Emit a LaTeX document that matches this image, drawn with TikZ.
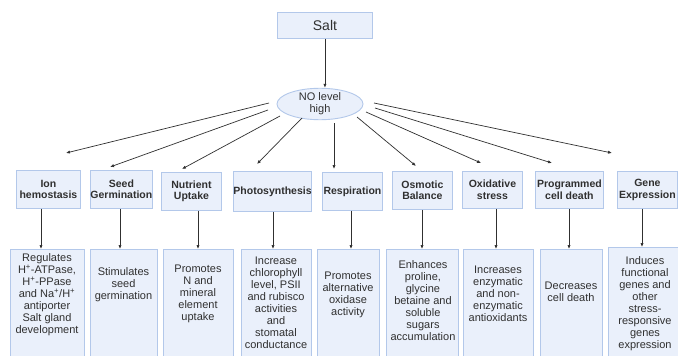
\documentclass[tikz,border=0pt]{standalone}
\usepackage{fontspec}
\setmainfont{Liberation Sans}
\usetikzlibrary{arrows.meta,shapes.geometric}
\definecolor{boxfill}{HTML}{EAF0FB}
\definecolor{boxline}{HTML}{B3C8EA}
\definecolor{ink}{HTML}{303030}
\begin{document}
\begin{tikzpicture}[x=1pt,y=-1pt,
  catbox/.style={draw=boxline, fill=boxfill, line width=0.9pt, text=ink, align=center,
     inner sep=0pt, anchor=north west, font=\bfseries\fontsize{10.5}{11.5}\selectfont},
  outbox/.style={draw=boxline, fill=boxfill, line width=0.9pt, inner sep=0pt,
     anchor=north west, minimum height=130},
  outtext/.style={text=ink, align=center, inner sep=0pt, font=\fontsize{11}{12}\selectfont},
  arr/.style={draw=ink, line width=0.7pt, -{Latex[length=4pt,width=3.2pt]}}]
\useasboundingbox (0,0) rectangle (678,356);
\clip (0,0) rectangle (678,356);
\fill[white] (0,0) rectangle (678,356);
% top
\node[catbox, font=\fontsize{14}{16}\selectfont, minimum width=95, minimum height=26] (salt) at (277,12) {Salt};
\node[ellipse, draw=boxline, fill=boxfill, line width=0.9pt, text=ink, align=center, inner sep=0pt,
  minimum width=86, minimum height=28, font=\fontsize{11}{12}\selectfont] (no) at (320,104) {NO level\\high};
\draw[arr] (salt.south) -- (salt.south |- no.north);
% category boxes
\node[catbox, minimum width=64, minimum height=38] (catI) at (16,170) {Ion\\hemostasis};
\node[catbox, minimum width=60, minimum height=38] (catS) at (90,170) {Seed\\Germination};
\node[catbox, minimum width=60, minimum height=38] (catN) at (161,172) {Nutrient\\Uptake};
\node[catbox, minimum width=78, minimum height=40] (catP) at (233,171) {Photosynthesis};
\node[catbox, minimum width=60, minimum height=38] (catR) at (322,172) {Respiration};
\node[catbox, minimum width=60, minimum height=38] (catO) at (392,171) {Osmotic\\Balance};
\node[catbox, minimum width=60, minimum height=37] (catX) at (462,171) {Oxidative\\stress};
\node[catbox, minimum width=68, minimum height=37] (catG) at (535,171) {Programmed\\cell death};
\node[catbox, minimum width=60, minimum height=37] (catE) at (617,171) {Gene\\Expression};
% fan connectors
\coordinate (f1s) at (269,103); \coordinate (f1e) at (66,153);
\coordinate (f2s) at (268,110); \coordinate (f2e) at (110,167);
\coordinate (f3s) at (280,116); \coordinate (f3e) at (182,169);
\coordinate (f4s) at (302,118); \coordinate (f4e) at (257,164);
\coordinate (f5s) at (334,123); \coordinate (f5e) at (334,169);
\coordinate (f6s) at (357,117); \coordinate (f6e) at (416,166);
\coordinate (f7s) at (366,112); \coordinate (f7e) at (481,163);
\coordinate (f8s) at (375,108); \coordinate (f8e) at (552,163);
\coordinate (f9s) at (374,103); \coordinate (f9e) at (612,153);
\foreach \i in {1,...,9} \draw[arr] (f\i s) -- (f\i e);
% output boxes
\node[outbox, minimum width=74] (boxI) at (10,249) {};
\node[outbox, minimum width=67] (boxS) at (90,249) {};
\node[outbox, minimum width=70] (boxN) at (163,249) {};
\node[outbox, minimum width=70] (boxP) at (241,249) {};
\node[outbox, minimum width=62] (boxR) at (317,249) {};
\node[outbox, minimum width=72] (boxO) at (386,249) {};
\node[outbox, minimum width=70] (boxX) at (463,249) {};
\node[outbox, minimum width=62] (boxG) at (540,249) {};
\node[outbox, minimum width=72] (boxE) at (608,247) {};
% output texts
\node[outtext] (txtI) at (47,295) {Regulates\\H\textsuperscript{+}-ATPase,\\H\textsuperscript{+}-PPase\\and Na\textsuperscript{+}/H\textsuperscript{+}\\antiporter\\Salt gland\\development};
\node[outtext] (txtS) at (123.5,285) {Stimulates\\seed\\germination};
\node[outtext] (txtN) at (198,294) {Promotes\\N and\\mineral\\element\\uptake};
\node[outtext] (txtP) at (276,303) {Increase\\chlorophyll\\level, PSII\\and rubisco\\activities\\and\\stomatal\\conductance};
\node[outtext] (txtR) at (348,294.5) {Promotes\\alternative\\oxidase\\activity};
\node[outtext] (txtO) at (423,301) {Enhances\\proline,\\glycine\\betaine and\\soluble\\sugars\\accumulation};
\node[outtext] (txtX) at (498,294) {Increases\\enzymatic\\and non-\\enzymatic\\antioxidants};
\node[outtext] (txtG) at (571,292) {Decreases\\cell death};
\node[outtext] (txtE) at (645,304) {Induces\\functional\\genes and\\other\\stress-\\responsive\\genes\\expression};
% vertical arrows
\foreach \n/\x in {I/41,S/120,N/198,P/273,R/351,O/422,X/496,G/569,E/642}
  \draw[arr] (cat\n.south -| \x,0) -- (box\n.north -| \x,0);
\end{tikzpicture}
\end{document}
